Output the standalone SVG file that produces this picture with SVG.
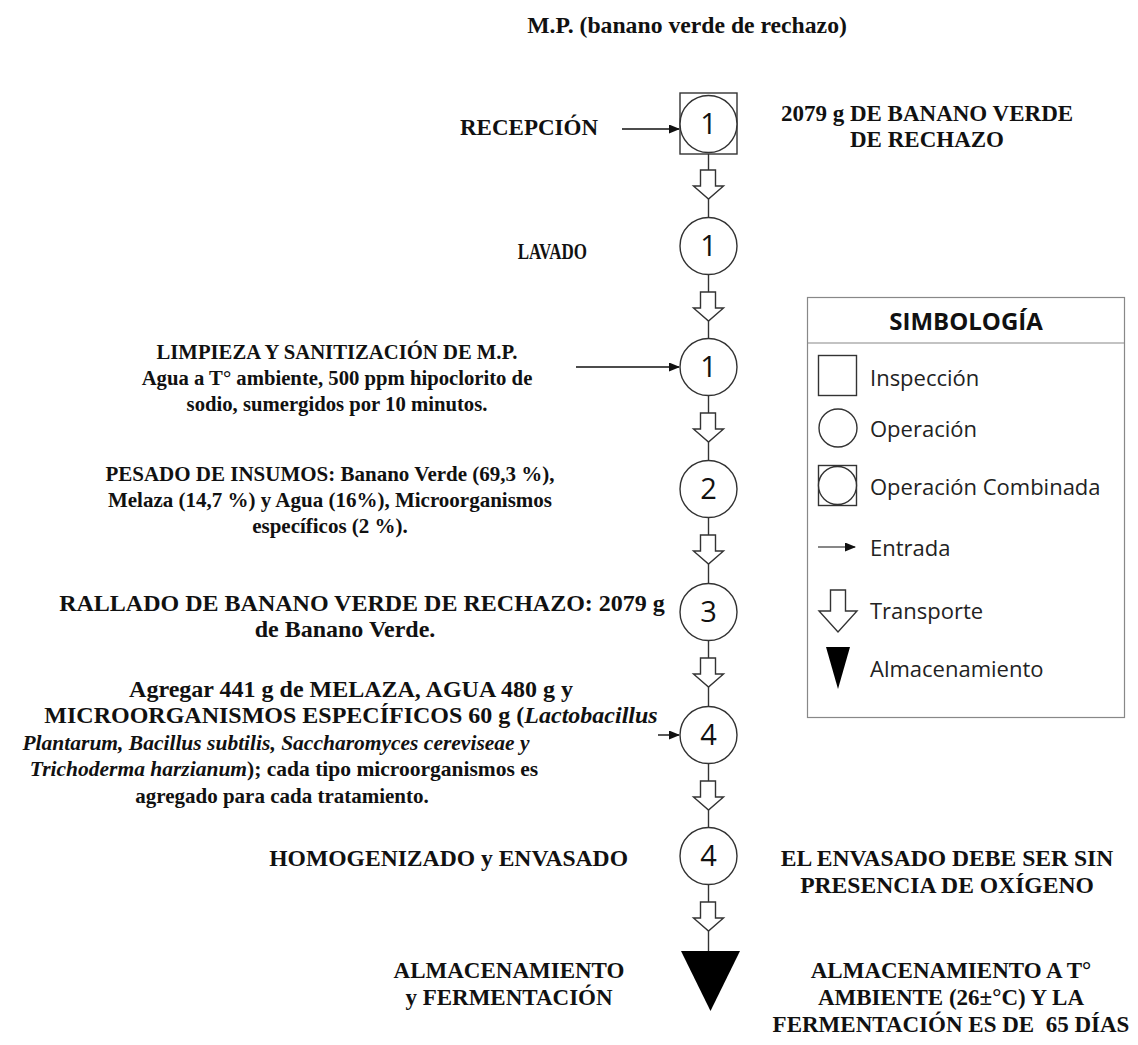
<svg xmlns="http://www.w3.org/2000/svg" xmlns:xlink="http://www.w3.org/1999/xlink" width="1138" height="1045" viewBox="0 0 1138 1045">
<style>
.t{font-family:"Liberation Serif","Times New Roman",serif;font-weight:bold;font-size:23px;fill:#111}
.i{font-style:italic}
.num{font-family:"Open Sans","Noto Sans",sans-serif;font-size:29px;fill:#111;text-anchor:middle}
.op{fill:#fff;stroke:#333;stroke-width:1.4}
.ln{stroke:#333;stroke-width:1.4;fill:none}
.lg{font-family:"Open Sans","Noto Sans",sans-serif;font-size:22px;fill:#222}
.lgt{font-family:"Open Sans","Noto Sans",sans-serif;font-size:24px;font-weight:bold;fill:#111;text-anchor:middle}
.tr{fill:#fff;stroke:#333;stroke-width:1.4}
</style>
<defs>
<path id="tp" d="M-8,0 H7 V16 H15 L0,29 L-15,16 H-8 Z"/>
<marker id="ah" markerWidth="11" markerHeight="9" refX="10" refY="4.5" orient="auto" markerUnits="userSpaceOnUse">
<path d="M0,0 L11,4.5 L0,9 Z" fill="#111"/>
</marker>
</defs>
<rect width="1138" height="1045" fill="#fff"/>

<text class="t" x="687" y="33" text-anchor="middle" style="font-size:23.7px">M.P. (banano verde de rechazo)</text>

<g id="connectors">
<line class="ln" x1="708.5" y1="154" x2="708.5" y2="217"/>
<line class="ln" x1="708.5" y1="275" x2="708.5" y2="338"/>
<line class="ln" x1="708.5" y1="396" x2="708.5" y2="460"/>
<line class="ln" x1="708.5" y1="518" x2="708.5" y2="583"/>
<line class="ln" x1="708.5" y1="641" x2="708.5" y2="706"/>
<line class="ln" x1="708.5" y1="764" x2="708.5" y2="827"/>
<line class="ln" x1="708.5" y1="885" x2="708.5" y2="951"/>
<use href="#tp" class="tr" x="708.5" y="170"/>
<use href="#tp" class="tr" x="708.5" y="292"/>
<use href="#tp" class="tr" x="708.5" y="413"/>
<use href="#tp" class="tr" x="708.5" y="535"/>
<use href="#tp" class="tr" x="708.5" y="658"/>
<use href="#tp" class="tr" x="708.5" y="781"/>
<use href="#tp" class="tr" x="708.5" y="902"/>
<line x1="622" y1="129" x2="679" y2="129" stroke="#111" stroke-width="1.4" marker-end="url(#ah)"/>
<line x1="576" y1="367" x2="679" y2="367" stroke="#111" stroke-width="1.4" marker-end="url(#ah)"/>
<line x1="658" y1="735" x2="679" y2="735" stroke="#111" stroke-width="1.4" marker-end="url(#ah)"/>
</g>

<g id="n1">
<rect x="680" y="93" width="57" height="61" fill="#fff" stroke="#333" stroke-width="1.4"/>
<circle class="op" cx="708.5" cy="124" r="28.5"/>
<text class="num" x="708.5" y="134">1</text>
<text class="t" x="598" y="135" text-anchor="end">RECEPCIÓN</text>
<text class="t" x="927" y="121" text-anchor="middle">2079 g DE BANANO VERDE</text>
<text class="t" x="927" y="147" text-anchor="middle">DE RECHAZO</text>
</g>

<g id="n2">
<circle class="op" cx="708.5" cy="246" r="28.5"/>
<text class="num" x="708.5" y="256">1</text>
<text class="t" x="0" y="0" text-anchor="end" transform="translate(587,259) scale(0.74,1)">LAVADO</text>
</g>

<g id="n3">
<circle class="op" cx="708.5" cy="367" r="28.5"/>
<text class="num" x="708.5" y="377">1</text>
<text class="t" x="337" y="359" text-anchor="middle" style="font-size:20.7px">LIMPIEZA Y SANITIZACIÓN DE M.P.</text>
<text class="t" x="337" y="385" text-anchor="middle" style="font-size:20.7px">Agua a T° ambiente, 500 ppm hipoclorito de</text>
<text class="t" x="337" y="411" text-anchor="middle" style="font-size:20.7px">sodio, sumergidos por 10 minutos.</text>
</g>

<g id="n4">
<circle class="op" cx="708.5" cy="489" r="28.5"/>
<text class="num" x="708.5" y="499">2</text>
<text class="t" x="330" y="481" text-anchor="middle" style="font-size:21px">PESADO DE INSUMOS: Banano Verde (69,3 %),</text>
<text class="t" x="330" y="507" text-anchor="middle" style="font-size:21px">Melaza (14,7 %) y Agua (16%), Microorganismos</text>
<text class="t" x="330" y="533" text-anchor="middle" style="font-size:21px">específicos (2 %).</text>
</g>

<g id="n5">
<circle class="op" cx="708.5" cy="612" r="28.5"/>
<text class="num" x="708.5" y="622">3</text>
<text class="t" x="362" y="611" text-anchor="middle" style="font-size:24px">RALLADO DE BANANO VERDE DE RECHAZO: 2079 g</text>
<text class="t" x="345" y="637" text-anchor="middle" style="font-size:24px">de Banano Verde.</text>
</g>

<g id="n6">
<circle class="op" cx="708.5" cy="735" r="28.5"/>
<text class="num" x="708.5" y="745">4</text>
<text class="t" x="351" y="697" text-anchor="middle" style="font-size:24px">Agregar 441 g de MELAZA, AGUA 480 g y</text>
<text class="t" x="351" y="723" text-anchor="middle" style="font-size:24px">MICROORGANISMOS ESPECÍFICOS 60 g (<tspan class="i">Lactobacillus</tspan></text>
<text class="t i" x="276" y="750" text-anchor="middle" style="font-size:21.5px">Plantarum, Bacillus subtilis, Saccharomyces cereviseae y</text>
<text class="t" x="284" y="776" text-anchor="middle" style="font-size:21.5px"><tspan class="i">Trichoderma harzianum</tspan>); cada tipo microorganismos es</text>
<text class="t" x="282" y="803" text-anchor="middle" style="font-size:21px">agregado para cada tratamiento.</text>
</g>

<g id="n7">
<circle class="op" cx="708.5" cy="856" r="28.5"/>
<text class="num" x="708.5" y="866">4</text>
<text class="t" x="628" y="866" text-anchor="end" style="font-size:23.6px">HOMOGENIZADO y ENVASADO</text>
<text class="t" x="947" y="866" text-anchor="middle" style="font-size:23.6px">EL ENVASADO DEBE SER SIN</text>
<text class="t" x="947" y="893" text-anchor="middle" style="font-size:23.6px">PRESENCIA DE OXÍGENO</text>
</g>

<g id="n8">
<path d="M681,951 H740 L710.5,1011 Z" fill="#000"/>
<text class="t" x="509" y="978" text-anchor="middle">ALMACENAMIENTO</text>
<text class="t" x="509" y="1005" text-anchor="middle">y FERMENTACIÓN</text>
<text class="t" x="951" y="978" text-anchor="middle">ALMACENAMIENTO A T°</text>
<text class="t" x="951" y="1005" text-anchor="middle">AMBIENTE (26±°C) Y LA</text>
<text class="t" x="951" y="1032" text-anchor="middle" xml:space="preserve">FERMENTACIÓN ES DE  65 DÍAS</text>
</g>

<g id="legend">
<rect x="807.5" y="297.5" width="317" height="420" fill="#fff" stroke="#888" stroke-width="1.2"/>
<line x1="807.5" y1="343" x2="1124.5" y2="343" stroke="#888" stroke-width="1.2"/>
<text class="lgt" x="966" y="330">SIMBOLOGÍA</text>
<rect x="818.5" y="355.5" width="38" height="40" fill="#fff" stroke="#333" stroke-width="1.4"/>
<text class="lg" x="870" y="386">Inspección</text>
<circle cx="838" cy="428" r="19" fill="#fff" stroke="#333" stroke-width="1.4"/>
<text class="lg" x="870" y="437">Operación</text>
<rect x="818.5" y="465.5" width="38" height="40" fill="#fff" stroke="#333" stroke-width="1.4"/>
<circle cx="837.5" cy="485.5" r="19" fill="#fff" stroke="#333" stroke-width="1.4"/>
<text class="lg" x="870" y="495">Operación Combinada</text>
<line x1="818" y1="547" x2="855" y2="547" stroke="#111" stroke-width="1.2" marker-end="url(#ah)"/>
<text class="lg" x="870" y="556">Entrada</text>
<path d="M830.5,590 H845.5 V611 H857 L838,632 L819,611 H830.5 Z" fill="#fff" stroke="#333" stroke-width="1.4"/>
<text class="lg" x="870" y="619">Transporte</text>
<path d="M826,647 H850 L838,689 Z" fill="#000"/>
<text class="lg" x="870" y="677">Almacenamiento</text>
</g>
</svg>
